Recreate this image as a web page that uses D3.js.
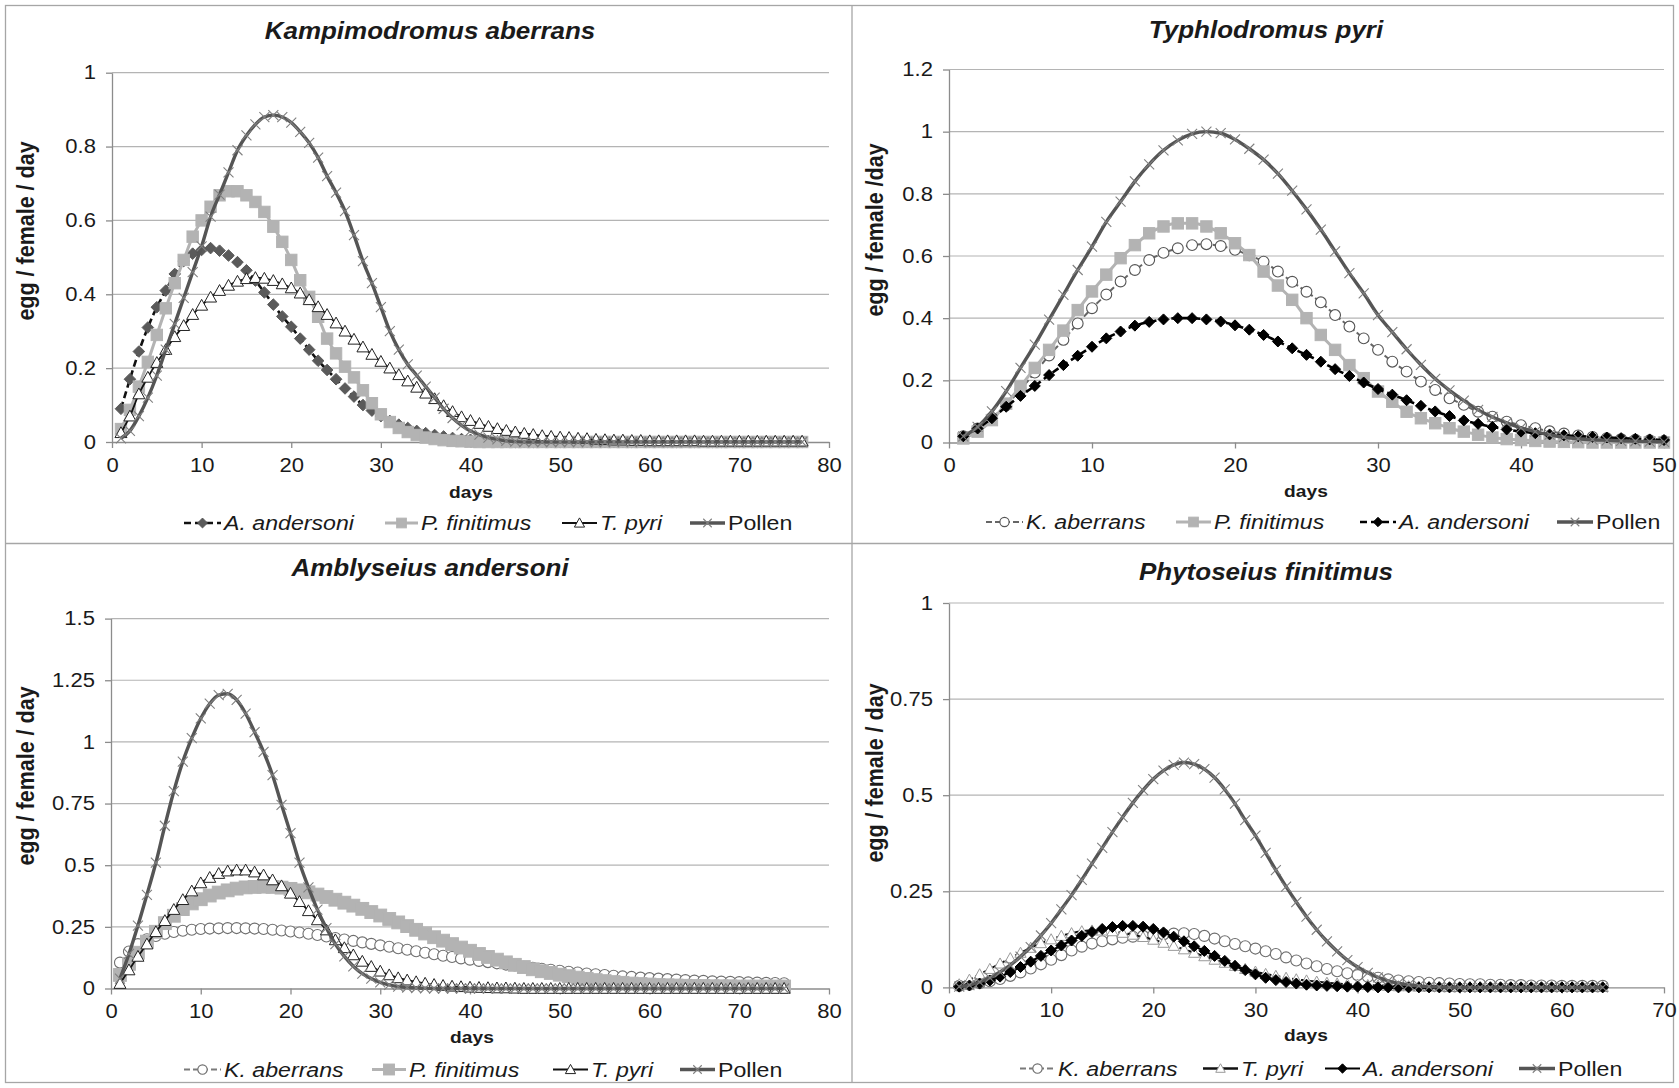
<!DOCTYPE html>
<html><head><meta charset="utf-8">
<script src="https://cdn.jsdelivr.net/npm/d3@7"></script>
<style>
body{margin:0;background:#fff}
svg{display:block}
text{font-family:"Liberation Sans",Arial,Helvetica,sans-serif;fill:#1a1a1a}
</style>
</head><body>
<svg id="c" width="1679" height="1088"></svg>
<script>
// ---------------- DATA ----------------
// Panel 1: Kampimodromus aberrans (days 1..77)
const ka_days = d3.range(1, 78);
const ka_andersoni = [0.09,0.17,0.245,0.31,0.365,0.41,0.455,0.49,0.51,0.52,
 0.525,0.518,0.505,0.487,0.465,0.437,0.405,0.372,0.34,0.312,
 0.28,0.25,0.22,0.195,0.17,0.145,0.123,0.10,0.085,0.07,
 0.057,0.047,0.038,0.03,0.024,0.019,0.015,0.011,0.008,0.006,
 0.004,0.003,0.002,0.001,0,0,0,0,0,0,
 0,0,0,0,0,0,0,0,0,0,
 0,0,0,0,0,0,0,0,0,0,
 0,0,0,0,0,0,0];
const ka_finitimus = [0.035,0.087,0.15,0.217,0.29,0.362,0.43,0.493,0.556,0.6,
 0.637,0.668,0.679,0.679,0.668,0.65,0.623,0.583,0.542,0.493,
 0.438,0.393,0.339,0.28,0.24,0.204,0.175,0.14,0.105,0.075,
 0.054,0.038,0.027,0.019,0.012,0.008,0.005,0.003,0.002,0.001,
 0,0,0,0,0,0,0,0,0,0,
 0,0,0,0,0,0,0,0,0,0,
 0,0,0,0,0,0,0,0,0,0,
 0,0,0,0,0,0,0];
const ka_pyri = [0.025,0.07,0.13,0.175,0.215,0.25,0.285,0.315,0.345,0.37,
 0.392,0.41,0.424,0.435,0.442,0.445,0.443,0.437,0.428,0.417,
 0.403,0.385,0.366,0.345,0.322,0.3,0.278,0.257,0.237,0.218,
 0.2,0.182,0.165,0.148,0.132,0.117,0.098,0.082,0.068,0.058,
 0.05,0.042,0.036,0.031,0.027,0.023,0.02,0.017,0.015,0.013,
 0.012,0.01,0.009,0.007,0.006,0.005,0.005,0.004,0.004,0.003,
 0.003,0.003,0.003,0.003,0.003,0.002,0.002,0.002,0.002,0.002,
 0.002,0.002,0.002,0.002,0.002,0.002,0.002];
const ka_pollen = [0.01,0.03,0.07,0.12,0.18,0.25,0.32,0.39,0.46,0.53,
 0.61,0.67,0.73,0.79,0.83,0.86,0.88,0.885,0.88,0.865,
 0.84,0.81,0.77,0.72,0.675,0.625,0.56,0.49,0.43,0.365,
 0.30,0.25,0.21,0.18,0.15,0.12,0.09,0.065,0.045,0.03,
 0.02,0.012,0.007,0.003,0.001,0,0,0,0,0,
 0,0,0,0,0,0,0,0,0,0,
 0,0,0,0,0,0,0,0,0,0,
 0,0,0,0,0,0,0];

// Panel 2: Typhlodromus pyri (days 1..50)
const tp_days = d3.range(1, 51);
const tp_aberrans = [0.02,0.045,0.08,0.12,0.17,0.225,0.28,0.33,0.383,0.432,
 0.476,0.518,0.555,0.587,0.61,0.625,0.635,0.638,0.632,0.62,
 0.602,0.582,0.55,0.517,0.485,0.451,0.41,0.373,0.335,0.298,
 0.26,0.228,0.196,0.169,0.142,0.121,0.099,0.083,0.067,0.056,
 0.046,0.036,0.029,0.023,0.018,0.014,0.011,0.009,0.007,0.005];
const tp_finitimus = [0.013,0.035,0.072,0.125,0.18,0.24,0.298,0.36,0.426,0.486,
 0.54,0.593,0.635,0.673,0.695,0.705,0.705,0.695,0.673,0.641,
 0.603,0.55,0.505,0.459,0.4,0.346,0.298,0.249,0.207,0.164,
 0.131,0.099,0.078,0.062,0.046,0.035,0.025,0.016,0.011,0.008,
 0.005,0.003,0.002,0.001,0,0,0,0,0,0];
const tp_andersoni = [0.02,0.045,0.078,0.115,0.15,0.182,0.217,0.249,0.279,0.308,
 0.335,0.357,0.376,0.388,0.396,0.4,0.4,0.396,0.389,0.377,
 0.363,0.346,0.325,0.303,0.282,0.26,0.236,0.214,0.193,0.172,
 0.154,0.136,0.118,0.1,0.085,0.071,0.06,0.05,0.042,0.035,
 0.03,0.026,0.023,0.02,0.018,0.016,0.014,0.012,0.01,0.008];
const tp_pollen = [0.02,0.05,0.1,0.165,0.24,0.315,0.395,0.475,0.555,0.63,
 0.71,0.775,0.84,0.895,0.94,0.972,0.993,1.0,0.995,0.975,
 0.945,0.91,0.865,0.81,0.75,0.685,0.615,0.545,0.48,0.41,
 0.355,0.3,0.25,0.205,0.168,0.135,0.105,0.082,0.063,0.047,
 0.035,0.025,0.017,0.012,0.009,0.007,0.005,0.004,0.003,0.002];

// Panel 3: Amblyseius andersoni (days 1..75)
const aa_days = d3.range(1, 76);
const aa_aberrans = [0.105,0.15,0.18,0.2,0.213,0.222,0.229,0.234,0.238,0.241,
 0.243,0.244,0.245,0.245,0.244,0.243,0.241,0.238,0.235,0.231,
 0.227,0.222,0.217,0.211,0.205,0.199,0.193,0.187,0.181,0.175,
 0.169,0.163,0.157,0.151,0.145,0.139,0.133,0.128,0.122,0.117,
 0.112,0.107,0.102,0.097,0.093,0.088,0.084,0.08,0.076,0.072,
 0.068,0.065,0.061,0.058,0.055,0.052,0.049,0.047,0.044,0.042,
 0.04,0.038,0.036,0.034,0.032,0.031,0.029,0.028,0.027,0.026,
 0.025,0.024,0.023,0.022,0.021];
const aa_finitimus = [0.055,0.1,0.145,0.19,0.23,0.265,0.295,0.322,0.345,0.362,
 0.377,0.389,0.398,0.405,0.41,0.412,0.413,0.412,0.409,0.404,
 0.398,0.39,0.381,0.371,0.36,0.348,0.336,0.323,0.31,0.296,
 0.282,0.268,0.253,0.238,0.223,0.208,0.194,0.18,0.166,0.153,
 0.14,0.128,0.117,0.106,0.096,0.087,0.078,0.07,0.063,0.056,
 0.05,0.044,0.039,0.034,0.03,0.026,0.023,0.02,0.018,0.016,
 0.014,0.013,0.012,0.011,0.01,0.01,0.009,0.009,0.009,0.008,
 0.008,0.008,0.008,0.008,0.008];
const aa_pyri = [0.02,0.075,0.13,0.18,0.23,0.275,0.32,0.36,0.395,0.428,
 0.45,0.466,0.476,0.48,0.48,0.472,0.46,0.44,0.416,0.386,
 0.352,0.315,0.278,0.237,0.197,0.165,0.136,0.11,0.089,0.07,
 0.055,0.043,0.034,0.027,0.021,0.016,0.012,0.009,0.007,0.005,
 0.004,0.003,0.002,0.002,0.001,0,0,0,0,0,
 0,0,0,0,0,0,0,0,0,0,
 0,0,0,0,0,0,0,0,0,0,
 0,0,0,0,0];
const aa_pollen = [0.04,0.14,0.255,0.38,0.51,0.66,0.8,0.92,1.015,1.095,
 1.155,1.19,1.195,1.17,1.115,1.04,0.96,0.865,0.745,0.63,
 0.51,0.41,0.32,0.245,0.18,0.13,0.09,0.06,0.04,0.025,
 0.015,0.008,0.004,0.002,0.001,0,0,0,0,0,
 0,0,0,0,0,0,0,0,0,0,
 0,0,0,0,0,0,0,0,0,0,
 0,0,0,0,0,0,0,0,0,0,
 0,0,0,0,0];

// Panel 4: Phytoseius finitimus (days 1..64)
const pf_days = d3.range(1, 65);
const pf_aberrans = [0.004,0.007,0.011,0.016,0.022,0.03,0.039,0.049,0.06,0.072,
 0.084,0.096,0.106,0.114,0.12,0.125,0.129,0.132,0.134,0.136,
 0.138,0.14,0.141,0.139,0.134,0.127,0.12,0.113,0.107,0.101,
 0.094,0.087,0.078,0.07,0.062,0.055,0.048,0.042,0.037,0.032,
 0.028,0.025,0.021,0.018,0.016,0.014,0.012,0.011,0.01,0.009,
 0.008,0.008,0.007,0.007,0.006,0.006,0.005,0.005,0.005,0.004,
 0.004,0.004,0.004,0.004];
const pf_pyri = [0.008,0.02,0.034,0.048,0.062,0.076,0.09,0.103,0.115,0.125,
 0.134,0.141,0.146,0.148,0.148,0.146,0.142,0.137,0.131,0.124,
 0.116,0.108,0.099,0.09,0.081,0.072,0.064,0.056,0.048,0.041,
 0.035,0.03,0.025,0.021,0.018,0.015,0.012,0.01,0.008,0.007,
 0.006,0.005,0.004,0.003,0.003,0.002,0.002,0.002,0.001,0.001,
 0.001,0.001,0.001,0.001,0.001,0.001,0.001,0.001,0.001,0.001,
 0.001,0.001,0.001,0.001];
const pf_andersoni = [0.002,0.005,0.01,0.018,0.028,0.04,0.053,0.067,0.082,0.096,
 0.109,0.122,0.134,0.144,0.152,0.157,0.16,0.16,0.158,0.152,
 0.143,0.132,0.12,0.107,0.095,0.082,0.069,0.056,0.045,0.034,
 0.025,0.019,0.014,0.01,0.007,0.005,0.004,0.003,0.002,0.002,
 0.001,0,0,0,0,0,0,0,0,0,
 0,0,0,0,0,0,0,0,0,0,
 0,0,0,0];
const pf_pollen = [0.002,0.006,0.014,0.025,0.04,0.058,0.08,0.105,0.135,0.167,
 0.203,0.24,0.28,0.322,0.363,0.404,0.443,0.48,0.513,0.542,
 0.564,0.579,0.585,0.581,0.568,0.546,0.515,0.478,0.435,0.395,
 0.35,0.305,0.262,0.222,0.184,0.15,0.12,0.094,0.071,0.053,
 0.038,0.026,0.017,0.011,0.007,0.004,0.002,0.001,0,0,
 0,0,0,0,0,0,0,0,0,0,
 0,0,0,0];

// Tick values / labels
const ka_xTicks = [0,10,20,30,40,50,60,70,80];
const ka_yTicks = [0,0.2,0.4,0.6,0.8,1];
const ka_yLabels = ["0","0.2","0.4","0.6","0.8","1"];
const tp_xTicks = [0,10,20,30,40,50];
const tp_yTicks = [0,0.2,0.4,0.6,0.8,1,1.2];
const tp_yLabels = ["0","0.2","0.4","0.6","0.8","1","1.2"];
const aa_xTicks = [0,10,20,30,40,50,60,70,80];
const aa_yTicks = [0,0.25,0.5,0.75,1,1.25,1.5];
const aa_yLabels = ["0","0.25","0.5","0.75","1","1.25","1.5"];
const pf_xTicks = [0,10,20,30,40,50,60,70];
const pf_yTicks = [0,0.25,0.5,0.75,1];
const pf_yLabels = ["0","0.25","0.5","0.75","1"];

// ---------------- STYLES ----------------
const SX = 1.13; // horizontal text stretch of the original picture
const ST = {
  andGray:  {line:"#111", lw:2.6, dash:"7,4", mk:"diamond", s:5.8, fill:"#5a5a5a", stroke:"#5a5a5a", sw:1},
  andBlack: {line:"#000", lw:2.6, dash:"7,4", mk:"diamond", s:5.5, fill:"#000", stroke:"#000", sw:1},
  andBlackSolid: {line:"#000", lw:2.2, dash:null, mk:"diamond", s:5.5, fill:"#000", stroke:"#000", sw:1},
  fin:      {line:"#b3b3b3", lw:3, dash:null, mk:"square", s:5.7, fill:"#b3b3b3", stroke:"#b3b3b3", sw:1},
  finBig:   {line:"#b3b3b3", lw:3, dash:null, mk:"square", s:6.4, fill:"#b3b3b3", stroke:"#b3b3b3", sw:1},
  pyri:     {line:"#111", lw:1.8, dash:null, mk:"triangle", s:6, fill:"#fff", stroke:"#222", sw:1},
  pyriLight:{line:"#111", lw:2, dash:"6,3", mk:"triangle", s:5.6, fill:"#fff", stroke:"#9a9a9a", sw:1},
  pollen:   {line:"#555555", lw:3.4, dash:null, mk:"x", s:5, fill:"none", stroke:"#808080", sw:1.1},
  abe:      {line:"#666", lw:2, dash:"6,3", mk:"circle", s:5.4, fill:"#fff", stroke:"#555", sw:1.1},
  abeLight: {line:"#7a7a7a", lw:2, dash:"6,3", mk:"circle", s:5.5, fill:"#fff", stroke:"#6e6e6e", sw:1.1}
};

// ---------------- PANELS ----------------
const panels = [
 {title:"Kampimodromus aberrans", tx:430, ty:39, x0:112, x1:829, xMax:80, y0:442, y1:72.7, yMax:1,
  xTicks:ka_xTicks, yTicks:ka_yTicks, yLabels:ka_yLabels, ylab:"egg / female / day", lx:34, ly:231,
  daysX:471, daysY:498, legY:530, days:ka_days,
  series:[
   {name:"A. andersoni", data:ka_andersoni, st:ST.andGray, it:true, pos:[184,224]},
   {name:"P. finitimus", data:ka_finitimus, st:ST.fin, it:true, pos:[385,421]},
   {name:"T. pyri", data:ka_pyri, st:ST.pyri, it:true, pos:[562,600]},
   {name:"Pollen", data:ka_pollen, st:ST.pollen, it:false, pos:[690,728]}
  ]},
 {title:"Typhlodromus pyri", tx:1266, ty:38, x0:949, x1:1664, xMax:50, y0:442.5, y1:69.5, yMax:1.2,
  xTicks:tp_xTicks, yTicks:tp_yTicks, yLabels:tp_yLabels, ylab:"egg / female /day", lx:883, ly:230,
  daysX:1306, daysY:497, legY:529, days:tp_days,
  series:[
   {name:"K. aberrans", data:tp_aberrans, st:ST.abe, it:true, pos:[986,1026]},
   {name:"P. finitimus", data:tp_finitimus, st:ST.fin, it:true, pos:[1176,1214]},
   {name:"A. andersoni", data:tp_andersoni, st:ST.andBlack, it:true, pos:[1360,1399]},
   {name:"Pollen", data:tp_pollen, st:ST.pollen, it:false, pos:[1557,1596]}
  ]},
 {title:"Amblyseius andersoni", tx:430, ty:576, x0:111, x1:829, xMax:80, y0:988.5, y1:618.6, yMax:1.5,
  xTicks:aa_xTicks, yTicks:aa_yTicks, yLabels:aa_yLabels, ylab:"egg / female / day", lx:34, ly:776,
  daysX:472, daysY:1043, legY:1076.5, days:aa_days,
  series:[
   {name:"K. aberrans", data:aa_aberrans, st:ST.abeLight, it:true, pos:[184,224]},
   {name:"P. finitimus", data:aa_finitimus, st:ST.finBig, it:true, pos:[372,409]},
   {name:"T. pyri", data:aa_pyri, st:ST.pyri, it:true, pos:[553,591]},
   {name:"Pollen", data:aa_pollen, st:ST.pollen, it:false, pos:[680,718]}
  ]},
 {title:"Phytoseius finitimus", tx:1266, ty:580, x0:949, x1:1664, xMax:70, y0:987.4, y1:603, yMax:1,
  xTicks:pf_xTicks, yTicks:pf_yTicks, yLabels:pf_yLabels, ylab:"egg / female / day", lx:883, ly:773,
  daysX:1306, daysY:1041, legY:1075.5, days:pf_days,
  series:[
   {name:"K. aberrans", data:pf_aberrans, st:ST.abeLight, it:true, pos:[1020,1058]},
   {name:"T. pyri", data:pf_pyri, st:ST.pyriLight, it:true, pos:[1203,1241], legSolid:true},
   {name:"A. andersoni", data:pf_andersoni, st:ST.andBlackSolid, it:true, pos:[1325,1363]},
   {name:"Pollen", data:pf_pollen, st:ST.pollen, it:false, pos:[1519,1558]}
  ]}
];

// ---------------- DRAW ----------------
const svg = d3.select("#c");
svg.append("rect").attr("width",1679).attr("height",1088).attr("fill","#fff");

function stretch(sel){
  sel.each(function(){
    const t = d3.select(this);
    const x = +t.attr("x") || 0, y = +t.attr("y") || 0;
    t.attr("x",0).attr("y",0).attr("transform",`translate(${x},${y}) scale(${SX},1)`);
  });
}

function marker(g, st){
  const s = st.s;
  let m;
  if (st.mk === "diamond") m = g.append("path").attr("d",`M0,${-s}L${s},0L0,${s}L${-s},0Z`);
  else if (st.mk === "square") m = g.append("rect").attr("x",-s).attr("y",-s).attr("width",2*s).attr("height",2*s);
  else if (st.mk === "triangle") m = g.append("path").attr("d",`M0,${-s}L${s},${s*0.8}L${-s},${s*0.8}Z`);
  else if (st.mk === "circle") m = g.append("circle").attr("r",s);
  else if (st.mk === "x") m = g.append("path").attr("d",`M${-s},${-s}L${s},${s}M${-s},${s}L${s},${-s}`);
  m.attr("fill",st.fill).attr("stroke",st.stroke).attr("stroke-width",st.sw);
}

// frame and dividers
const frame = svg.append("g").attr("fill","none").attr("stroke","#a6a6a6").attr("stroke-width",1.3);
frame.append("rect").attr("x",5.5).attr("y",5.5).attr("width",1668).attr("height",1077);
frame.append("line").attr("x1",852).attr("x2",852).attr("y1",5.5).attr("y2",1082.5);
frame.append("line").attr("x1",5.5).attr("x2",1673.5).attr("y1",543.5).attr("y2",543.5);

panels.forEach(p => {
  const x = d3.scaleLinear().domain([0,p.xMax]).range([p.x0,p.x1]);
  const y = d3.scaleLinear().domain([0,p.yMax]).range([p.y0,p.y1]);
  const g = svg.append("g");

  // gridlines
  g.append("g").selectAll("line").data(p.yTicks.filter(v=>v>0)).join("line")
    .attr("x1",p.x0).attr("x2",p.x1).attr("y1",d=>y(d)).attr("y2",d=>y(d))
    .attr("stroke","#b4b4b4").attr("stroke-width",1.2);

  // axes
  const ya = g.append("g").attr("transform",`translate(${p.x0},0)`)
    .call(d3.axisLeft(y).tickValues(p.yTicks).tickFormat((d,i)=>p.yLabels[i]).tickSize(6).tickSizeOuter(0).tickPadding(10));
  const xa = g.append("g").attr("transform",`translate(0,${p.y0})`)
    .call(d3.axisBottom(x).tickValues(p.xTicks).tickFormat(d3.format("d")).tickSize(6).tickSizeOuter(0).tickPadding(10));
  [ya,xa].forEach(a=>{
    a.select(".domain").attr("stroke","#8c8c8c").attr("stroke-width",1.3);
    a.selectAll(".tick line").attr("stroke","#8c8c8c").attr("stroke-width",1.3);
    a.selectAll("text").attr("font-size",19.5).attr("fill","#1a1a1a")
      .style("font-family",'"Liberation Sans",Arial,sans-serif');
    stretch(a.selectAll("text"));
  });

  // series
  p.series.forEach(se => {
    const pts = p.days.map((d,i)=>[d, se.data[i]]);
    const line = d3.line().x(d=>x(d[0])).y(d=>y(d[1])).curve(d3.curveMonotoneX);
    g.append("path").datum(pts).attr("d",line).attr("fill","none")
      .attr("stroke",se.st.line).attr("stroke-width",se.st.lw)
      .attr("stroke-dasharray",se.st.dash).attr("stroke-linejoin","round");
    const mg = g.append("g");
    mg.selectAll("g").data(pts).join("g")
      .attr("transform",d=>`translate(${x(d[0])},${y(d[1])})`)
      .each(function(){ marker(d3.select(this), se.st); });
  });

  // title
  const t = g.append("text").attr("x",p.tx).attr("y",p.ty).attr("text-anchor","middle")
    .attr("font-size",23).attr("font-weight","bold").attr("font-style","italic").text(p.title);
  stretch(t);

  // x axis title
  const dt = g.append("text").attr("x",p.daysX).attr("y",p.daysY).attr("text-anchor","middle")
    .attr("font-size",17).attr("font-weight","bold").text("days");
  stretch(dt);

  // y axis title
  g.append("text").attr("transform",`translate(${p.lx},${p.ly}) rotate(-90) scale(1,${SX})`)
    .attr("text-anchor","middle").attr("font-size",21.5).attr("font-weight","bold").text(p.ylab);

  // legend
  p.series.forEach(se => {
    const [sx, tx] = se.pos;
    const cy = p.legY - 7;
    const lg = g.append("g");
    lg.append("line").attr("x1",sx).attr("x2",tx-3).attr("y1",cy).attr("y2",cy)
      .attr("stroke",se.st.line).attr("stroke-width",se.legSolid ? 2.6 : se.st.lw)
      .attr("stroke-dasharray",se.legSolid ? null : se.st.dash);
    const mk = lg.append("g").attr("transform",`translate(${(sx+tx-3)/2},${cy})`);
    marker(mk, Object.assign({}, se.st, {s: se.st.s*0.85}));
    const lt = lg.append("text").attr("x",tx).attr("y",p.legY).attr("font-size",20.5)
      .attr("font-style", se.it ? "italic" : "normal").text(se.name);
    stretch(lt);
  });
});
</script>
</body></html>
